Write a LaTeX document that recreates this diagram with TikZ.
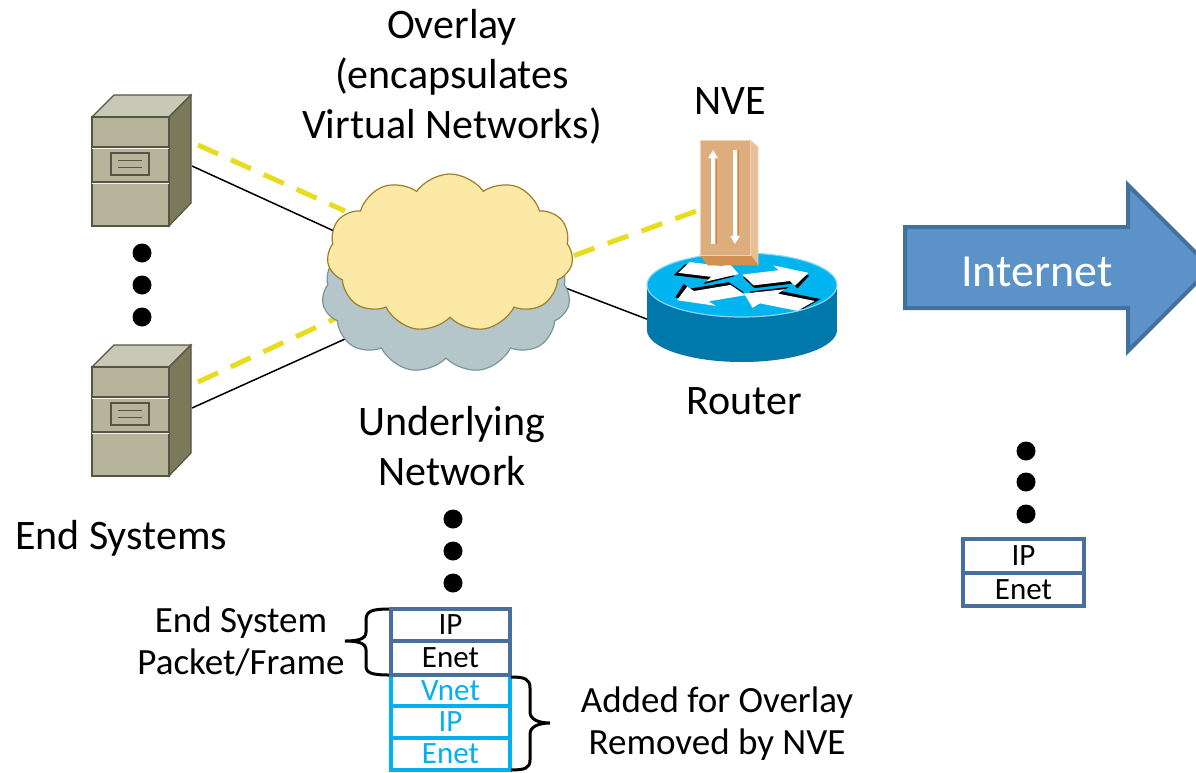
\documentclass[tikz,border=0pt]{standalone}
\usepackage{fontspec}
\setmainfont{Carlito}
\usetikzlibrary{shapes.symbols,arrows.meta}
\definecolor{srvtop}{RGB}{200,200,182}
\definecolor{srvfront}{RGB}{182,181,156}
\definecolor{srvside}{RGB}{122,122,90}
\definecolor{srvline}{RGB}{85,85,65}
\definecolor{yel}{RGB}{232,220,30}
\definecolor{cloudy}{RGB}{253,233,166}
\definecolor{cloudyb}{RGB}{160,125,40}
\definecolor{cloudg}{RGB}{180,198,202}
\definecolor{cloudgb}{RGB}{120,150,155}
\definecolor{rtop}{RGB}{0,180,240}
\definecolor{rside}{RGB}{0,120,170}
\definecolor{redge}{RGB}{130,215,250}
\definecolor{nvefront}{RGB}{222,173,126}
\definecolor{nveside}{RGB}{232,192,152}
\definecolor{nvebot}{RGB}{210,145,80}
\definecolor{nveline}{RGB}{200,130,70}
\definecolor{inetfill}{RGB}{91,147,200}
\definecolor{inetline}{RGB}{65,113,156}
\definecolor{dkblue}{RGB}{72,112,158}
\definecolor{ltblue}{RGB}{0,176,240}
\tikzset{
  server/.pic={
    \filldraw[fill=srvtop,draw=srvline,line width=1.2] (0,0)--(22,-22)--(99,-22)--(77,0)--cycle;
    \filldraw[fill=srvside,draw=srvline,line width=1.2] (77,0)--(99,-22)--(99,86)--(77,109)--cycle;
    \filldraw[fill=srvfront,draw=srvline,line width=1.2] (0,0) rectangle (77,109);
    \draw[srvline,line width=1.5] (0,30)--(77,30) (0,65)--(77,65);
    \draw[white!85!srvfront,line width=1] (0,31.5)--(77,31.5) (0,66.5)--(77,66.5);
    \draw[srvline,line width=1.5] (19,36) rectangle (57,58);
    \draw[srvline,line width=1] (26,43)--(50,43) (26,50)--(50,50);
  },
  farrow/.pic={
    \fill[black] (-2,-9)--(0.6*#1,-9)--(0.6*#1,-24)--(#1-2,8)--(0.6*#1,40)--(0.6*#1,25)--(-2,25)--cycle;
    \fill[white] (0,-17)--(0.6*#1,-17)--(0.6*#1,-32)--(#1,0)--(0.6*#1,32)--(0.6*#1,17)--(0,17)--cycle;
  },
  link/.style={black,line width=1.5},
  vlink/.style={yel,line width=5,dash pattern=on 22pt off 14pt},
  dot/.style={circle,fill=black,inner sep=0pt,minimum size=19pt},
  lbl/.style={font=\fontsize{42}{50}\selectfont,align=center,inner sep=0pt},
  lbls/.style={font=\fontsize{37}{42}\selectfont,align=center,inner sep=0pt},
  rowdk/.style={draw=dkblue,line width=4,minimum width=119pt,inner sep=0pt,font=\fontsize{31}{31}\selectfont,text=black},
  rowlt/.style={draw=ltblue,line width=4,minimum width=119pt,inner sep=0pt,font=\fontsize{31}{31}\selectfont,text=ltblue},
  narrow/.style={white,line width=4,-{Triangle[length=8pt,width=9pt]}},
  brc/.style={black,line width=3},
}
\begin{document}
\begin{tikzpicture}[x=1pt,y=-1pt]
\useasboundingbox (0,0) rectangle (1196,772);

% coordinates for connectors
\coordinate (s1) at (192,166);
\coordinate (s1v) at (198,145);
\coordinate (s2) at (192,408);
\coordinate (s2v) at (198,382);
\coordinate (c1) at (345,236);
\coordinate (c1v) at (345,211);
\coordinate (c2) at (365,330);
\coordinate (c2v) at (345,314);
\coordinate (cr) at (555,284);
\coordinate (cv) at (540,268);
\coordinate (rt) at (665,326);
\coordinate (nv) at (702,209);

% connectors (behind shapes)
\draw[link] (s1) -- (c1);
\draw[link] (s2) -- (c2);
\draw[link] (cr) -- (rt);
\draw[vlink] (s1v) -- (c1v);
\draw[vlink] (s2v) -- (c2v);
\draw[vlink] (cv) -- (nv);

% clouds
\node[cloud,cloud puffs=11,cloud puff arc=110,aspect=1.56,minimum width=248pt,minimum height=158pt,
      fill=cloudg,draw=cloudgb,line width=1.2] (under) at (446,294) {};
\node[cloud,cloud puffs=11,cloud puff arc=110,aspect=1.56,minimum width=246pt,minimum height=158pt,
      fill=cloudy,draw=cloudyb,line width=1.2] (overlay) at (450,253) {};

% servers
\pic at (92,117) {server};
\pic at (92,367) {server};
\node[dot] (d1) at (142,253) {};
\node[dot] (d2) at (142,285) {};
\node[dot] (d3) at (142,317) {};

% router
\fill[rside] (742,330) ellipse [x radius=95,y radius=32];
\fill[rside] (647,285) rectangle (837,330);
\filldraw[fill=rtop,draw=redge,line width=1.2] (742,285) ellipse [x radius=95,y radius=32];
\begin{scope}[shift={(742,285)},yscale=0.337]
  \pic[transform shape,rotate=-19.6] at (-58,-52) {farrow={58}};
  \pic[transform shape,rotate=19.4] at (6,-15) {farrow={64}};
  \pic[transform shape,rotate=-153.7] at (-4,15) {farrow={68}};
  \pic[transform shape,rotate=-210.7] at (64,62) {farrow={72}};
\end{scope}

% NVE
\filldraw[fill=nveside,draw=nveside!80!white,line width=0.8] (750,140)--(758,147)--(758,265)--(750,255)--cycle;
\filldraw[fill=nvebot,draw=nvebot,line width=0.8] (700,255)--(750,255)--(758,265)--(708,265)--cycle;
\filldraw[fill=nvefront,draw=nveside!70!white,line width=1] (700,140) rectangle (750,255);
\draw[nveline,line width=1] (716,244)--(716,160) (738,150)--(738,234);
\draw[narrow] (713,244) -- (713,150);
\draw[narrow] (735,150) -- (735,244);

% Internet arrow
\filldraw[fill=inetfill,draw=inetline,line width=4,line join=miter]
  (905,227)--(1128,227)--(1128,185)--(1211,268)--(1128,351)--(1128,308)--(905,308)--cycle;
\node[text=white,font=\fontsize{46}{46}\selectfont,inner sep=0pt] (internet) at (1037,272) {Internet};

% labels
\node[lbl] (lov) at (452,77) {Overlay\\(encapsulates\\Virtual Networks)};
\node[lbl] (lnve) at (730,101) {NVE};
\node[lbl] (lrouter) at (744,401) {Router};
\node[lbl] (lund) at (452,446) {Underlying\\Network};
\node[lbl] (lend) at (121,538) {End Systems};
\node[lbls] (lpkt) at (241,641) {End System\\Packet/Frame};
\node[lbls] (ladd) at (717,724) {Added for Overlay\\Removed by NVE};

% center dots
\node[dot] (e1) at (453,519) {};
\node[dot] (e2) at (453,551) {};
\node[dot] (e3) at (453,583) {};

% center stack
\node[rowlt,minimum height=31pt] (vnet) at (450.5,690.5) {Vnet};
\node[rowlt,minimum height=32pt] (ip2) at (450.5,722) {IP};
\node[rowlt,minimum height=32pt] (en2) at (450.5,754) {Enet};
\node[rowdk,minimum height=32pt] (ip1) at (450.5,625) {IP};
\node[rowdk,minimum height=34pt] (en1) at (450.5,658) {Enet};

% right dots and stack
\node[dot] (f1) at (1026,451) {};
\node[dot] (f2) at (1026,482) {};
\node[dot] (f3) at (1026,514) {};
\node[rowdk,minimum width=121pt,minimum height=34pt] (ip3) at (1023.5,556) {IP};
\node[rowdk,minimum width=121pt,minimum height=33pt] (en3) at (1023.5,589.5) {Enet};

% braces
\draw[brc] (389,609) .. controls (372,609) and (366,611) .. (366,620) -- (366,632)
  .. controls (366,639) and (358,641) .. (345,641)
  .. controls (358,641) and (366,643) .. (366,650) -- (366,666)
  .. controls (366,673) and (372,675) .. (389,675);
\draw[brc] (511,677) .. controls (525,677) and (530,679) .. (530,688) -- (530,712)
  .. controls (530,719) and (538,723) .. (550,723)
  .. controls (538,723) and (530,727) .. (530,734) -- (530,760)
  .. controls (530,768) and (525,770) .. (511,770);
\end{tikzpicture}
\end{document}
